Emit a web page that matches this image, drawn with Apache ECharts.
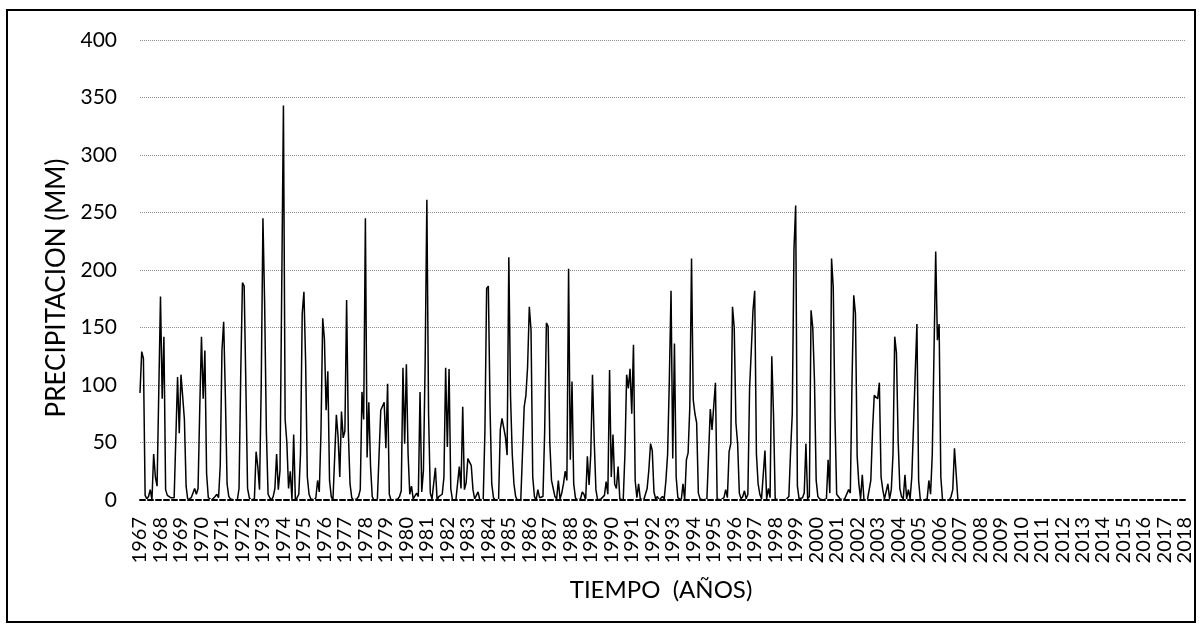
<!DOCTYPE html>
<html>
<head>
<meta charset="utf-8">
<script src="https://cdn.jsdelivr.net/npm/echarts@6/dist/echarts.min.js"></script>
<style>html,body{margin:0;padding:0;background:#fff}#c{width:1202px;height:632px}</style>
</head>
<body>
<div id="c"></div>
<script>
// Year tick labels (one every 12 months)
const yearLabels = [1967,1968,1969,1970,1971,1972,1973,1974,1975,1976,1977,1978,1979,1980,1981,1982,1983,1984,1985,1986,1987,1988,1989,1990,1991,1992,1993,1994,1995,1996,1997,1998,1999,2000,2001,2002,2003,2004,2005,2006,2007,2008,2009,2010,2011,2012,2013,2014,2015,2016,2017,2018];

// Monthly precipitation (mm), Jan..Dec per year
const p1967_1976 = [
  93,129,123,4,1,3,9,0,40,20,12,12,
  177,88,142,9,4,3,2,1,2,1,107,58,
  109,90,70,12,0,1,2,3,10,5,10,80,
  142,88,130,23,2,1,0,0,3,5,2,30,
  130,155,90,14,3,1,0,0,1,0,10,110,
  189,186,100,10,2,0,0,1,42,29,9,100,
  245,170,60,5,2,0,3,10,40,9,26,25,
  343,70,50,10,25,0,57,0,2,5,40,162,
  181,120,20,5,1,0,0,2,17,7,60,158,
  140,78,112,17,3,0,0,74,55,20,77,54
];
const p1977_1986 = [
  60,174,60,14,2,0,0,1,3,9,94,70,
  245,37,85,30,3,0,0,0,1,78,77,85,
  45,101,5,0,1,0,0,1,3,8,115,49,
  118,40,5,12,1,2,6,3,94,7,26,120,
  261,75,6,1,0,28,0,3,2,5,20,115,
  46,114,10,0,1,0,0,29,10,81,9,15,
  36,33,30,9,1,0,7,0,1,0,60,184,
  186,80,14,2,0,1,0,61,71,70,55,39,
  211,90,40,14,3,0,1,0,1,81,91,116,
  168,148,20,3,0,9,2,1,3,60,154,151
];
const p1987_1996 = [
  50,17,10,3,1,17,1,6,14,25,17,201,
  35,103,14,2,0,0,1,7,5,0,38,13,
  40,109,52,9,0,0,1,0,4,16,5,113,
  20,57,14,10,29,1,0,0,40,109,97,114,
  75,135,17,2,14,1,0,0,1,10,26,49,
  43,7,1,3,0,0,3,1,17,40,104,182,
  36,136,20,2,1,0,14,0,35,41,81,210,
  87,75,67,6,1,0,0,0,1,2,79,61,
  62,102,1,0,0,1,2,9,2,42,49,168,
  150,67,49,6,1,3,8,1,5,97,130,165
];
const p1997_2006 = [
  182,40,14,5,1,0,43,1,10,2,125,75,
  1,0,0,0,0,1,0,1,3,42,75,218,
  256,12,1,0,2,6,49,1,3,165,150,104,
  17,3,1,0,0,0,1,35,6,210,185,72,
  5,3,1,0,0,2,1,9,6,104,178,162,
  38,14,1,22,0,1,0,1,17,60,91,91,
  88,102,20,9,1,0,14,1,9,40,142,128,
  52,10,3,1,22,1,9,1,20,64,110,153,
  17,0,0,0,0,1,17,5,40,128,216,139,
  153,20,0,1,0,0,0,3,9,45,46,0
];

const monthly = [].concat(p1967_1976, p1977_1986, p1987_1996, p1997_2006);
const seriesData = monthly.map((v, i) => [i, v]);
const monthsTotal = (yearLabels.length - 1) * 12;

const chart = echarts.init(document.getElementById('c'), null, {renderer: 'canvas'});
chart.setOption({
  animation: false,
  backgroundColor: '#fff',
  grid: {left: 140, right: 17, top: 40, bottom: 132},
  xAxis: {
    type: 'value', min: 0, max: monthsTotal, interval: 12, z: 5,
    axisLine: {show: true, onZero: false, lineStyle: {color: '#000', width: 2, type: [5, 3]}},
    axisTick: {show: false},
    splitLine: {show: false},
    axisLabel: {
      rotate: 90, margin: 17, color: '#000', fontFamily: 'Lato', fontSize: 20,
      showMinLabel: true, showMaxLabel: true, hideOverlap: false,
      formatter: v => String(yearLabels[Math.round(v / 12)])
    }
  },
  yAxis: {
    type: 'value', min: 0, max: 400, interval: 50,
    axisLine: {show: false}, axisTick: {show: false},
    splitLine: {lineStyle: {color: '#8c8c8c', type: 'dotted', width: 1}},
    axisLabel: {margin: 23, color: '#000', fontFamily: 'Lato', fontSize: 21}
  },
  series: [
    {
      type: 'line', data: seriesData, symbol: 'none', showSymbol: false, z: 2,
      lineStyle: {color: '#000', width: 1.5}
    },
    {
      type: 'line', data: [], z: 3, symbol: 'none',
      markLine: {
        silent: true, symbol: 'none', label: {show: false},
        lineStyle: {color: '#fff', width: 2, type: 'solid'},
        data: [{yAxis: 0}]
      }
    }
  ],
  graphic: [
    {type: 'rect', shape: {x: 7, y: 10, width: 1188, height: 612},
     style: {fill: 'transparent', stroke: '#000', lineWidth: 2}, silent: true},
    {type: 'text', x: 57, y: 288, rotation: Math.PI / 2,
     style: {text: 'PRECIPITACION (MM)', font: '26px Lato', fill: '#000',
             textAlign: 'center', textVerticalAlign: 'middle', align: 'center', verticalAlign: 'middle'}},
    {type: 'text', x: 661, y: 590,
     style: {text: 'TIEMPO  (AÑOS)', font: '24px Lato', fill: '#000',
             textAlign: 'center', textVerticalAlign: 'middle', align: 'center', verticalAlign: 'middle'}}
  ]
});
</script>
</body>
</html>
